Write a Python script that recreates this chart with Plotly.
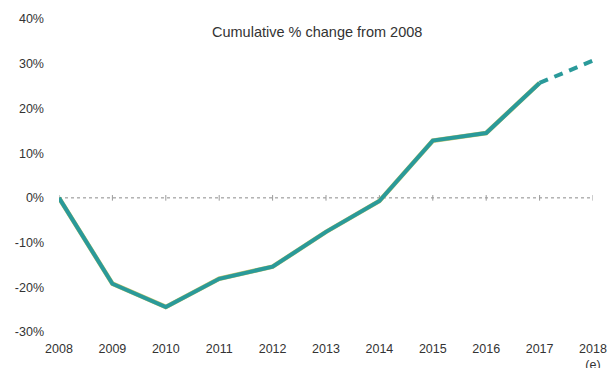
import plotly.graph_objects as go

years = [2008, 2009, 2010, 2011, 2012, 2013, 2014, 2015, 2016, 2017, 2018]
actual_years = [2008, 2009, 2010, 2011, 2012, 2013, 2014, 2015, 2016, 2017]
actual_values = [0, -19.2, -24.4, -18.1, -15.4, -7.6, -0.7, 12.8, 14.5, 25.7]
estimate_years = [2017, 2018]
estimate_values = [25.7, 30.7]
x_tick_labels = ["2008", "2009", "2010", "2011", "2012", "2013", "2014", "2015", "2016", "2017", "2018<br>(e)"]
y_tick_values = [-30, -20, -10, 0, 10, 20, 30, 40]
y_tick_labels = ["-30%", "-20%", "-10%", "0%", "10%", "20%", "30%", "40%"]
title_text = "Cumulative % change from 2008"

teal = "#2a9a9a"
font_family = "Liberation Sans, Arial, sans-serif"

fig = go.Figure()

# zero reference line with small tick marks
fig.add_trace(go.Scatter(
    x=years, y=[0] * len(years), mode="lines+markers",
    line=dict(color="#8a8a8a", width=1, dash="dot"),
    marker=dict(symbol="line-ns", size=4, line=dict(color="#9a9a9a", width=1)),
    hoverinfo="skip", showlegend=False,
))

fig.add_trace(go.Scatter(
    x=actual_years, y=actual_values, mode="lines",
    line=dict(color="#c9c46a", width=4.6),
    hoverinfo="skip", showlegend=False,
))
fig.add_trace(go.Scatter(
    x=actual_years, y=actual_values, mode="lines",
    line=dict(color=teal, width=4),
    showlegend=False,
))
fig.add_trace(go.Scatter(
    x=estimate_years, y=estimate_values, mode="lines",
    line=dict(color=teal, width=4, dash="9px,7px"),
    showlegend=False,
))

fig.update_layout(
    width=611, height=368,
    margin=dict(l=59, r=18, t=19, b=36, autoexpand=False),
    paper_bgcolor="white", plot_bgcolor="white",
    font=dict(family=font_family, size=12, color="#333333"),
    showlegend=False,
    annotations=[dict(
        text=title_text, x=0.484, xref="paper", y=37, yref="y",
        showarrow=False, font=dict(size=14.5, color="#333333", family=font_family),
        xanchor="center", yanchor="middle",
    )],
)
fig.update_xaxes(
    range=[2008, 2018], tickmode="array", tickvals=years, ticktext=x_tick_labels,
    showgrid=False, zeroline=False, showline=False, ticks="outside", ticklen=5,
    tickcolor="rgba(0,0,0,0)", automargin=False, tickfont=dict(size=12.5),
)
fig.update_yaxes(
    range=[-30, 40], tickmode="array", tickvals=y_tick_values, ticktext=y_tick_labels,
    showgrid=False, zeroline=False, showline=False, ticks="", ticklabelstandoff=14,
    automargin=False, tickfont=dict(size=12.5),
)

page_script = "document.body.style.margin='0';document.documentElement.style.overflow='hidden';"
fig.write_html("out.html", post_script=page_script, config={"displayModeBar": False})
